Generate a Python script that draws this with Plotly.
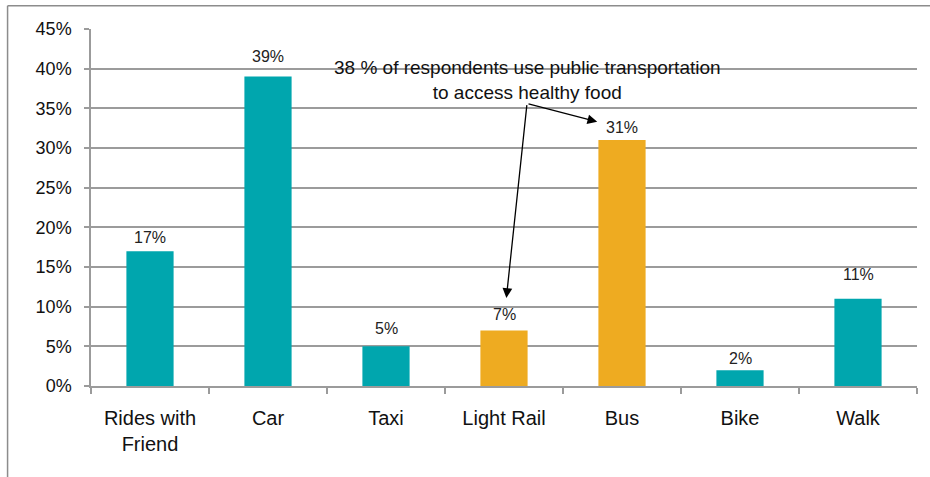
import plotly.graph_objects as go

categories = ["Rides with<br>Friend", "Car", "Taxi", "Light Rail", "Bus", "Bike", "Walk"]
shares = [17, 39, 5, 7, 31, 2, 11]
labels = ["17%", "39%", "5%", "7%", "31%", "2%", "11%"]
public_transport = [False, False, False, True, True, False, False]

teal = "#00A6AE"
orange = "#EEAB21"
grid = "#9b9b9b"
font_family = "Liberation Sans, Arial, sans-serif"

colors = [orange if p else teal for p in public_transport]
# data labels were nudged by hand in the original, so each sits a bit differently above its bar
label_gap_px = [14, 20, 18, 16, 13, 12, 24]

fig = go.Figure()
fig.add_trace(go.Bar(
    x=categories,
    y=shares,
    marker=dict(color=colors, line=dict(width=0)),
    width=0.4,
    hoverinfo="skip",
))

for cat, val, lab, gap in zip(categories, shares, labels, label_gap_px):
    fig.add_annotation(
        x=cat, y=val, text=lab, showarrow=False,
        yanchor="middle", yshift=gap,
        font=dict(size=16, color="#222222"),
    )

fig.update_layout(
    width=930,
    height=477,
    margin=dict(l=91, r=13, t=29, b=91),
    paper_bgcolor="white",
    plot_bgcolor="white",
    showlegend=False,
    font=dict(family=font_family, size=18, color="#111111"),
)

fig.update_yaxes(
    range=[0, 45],
    dtick=5,
    ticksuffix="%",
    automargin=False,
    showgrid=True,
    gridcolor=grid,
    gridwidth=1.5,
    zeroline=False,
    showline=True,
    linecolor=grid,
    linewidth=1.5,
    ticks="outside",
    ticklen=5,
    tickcolor=grid,
    tickwidth=1.5,
    ticklabelstandoff=9,
    tickfont=dict(size=18),
)
fig.update_xaxes(
    automargin=False,
    showline=True,
    linecolor=grid,
    linewidth=1.5,
    ticks="outside",
    tickson="boundaries",
    ticklen=6,
    tickcolor=grid,
    tickwidth=1.5,
    ticklabelstandoff=13,
    tickfont=dict(size=20),
    showgrid=False,
)

# chart frame (left and top edges visible)
fig.add_shape(type="line", xref="paper", yref="paper", x0=-0.101, x1=-0.101, y0=-0.3, y1=1.065,
              line=dict(color="#8c8c8c", width=1.5))
fig.add_shape(type="line", xref="paper", yref="paper", x0=-0.101, x1=1.05, y0=1.065, y1=1.065,
              line=dict(color="#8c8c8c", width=1.5))

# callout text and arrows
fig.add_annotation(
    x=3.2, y=38.6, xref="x", yref="y",
    text="38 % of respondents use public transportation<br>to access healthy food",
    showarrow=False, align="center",
    font=dict(size=19, color="#111111"),
)
fig.add_annotation(
    x=3.02, y=11.1, ax=3.195, ay=35.6, xref="x", yref="y", axref="x", ayref="y",
    text="", showarrow=True, arrowhead=2, arrowsize=1.5, arrowwidth=1.3, arrowcolor="black",
)
fig.add_annotation(
    x=3.79, y=33.3, ax=3.195, ay=35.6, xref="x", yref="y", axref="x", ayref="y",
    text="", showarrow=True, arrowhead=2, arrowsize=1.5, arrowwidth=1.3, arrowcolor="black",
)

# page has a default body margin; remove it so the figure sits at the window origin
fig.write_html("out.html", config={"displayModeBar": False},
               post_script="document.body.style.margin='0';")
